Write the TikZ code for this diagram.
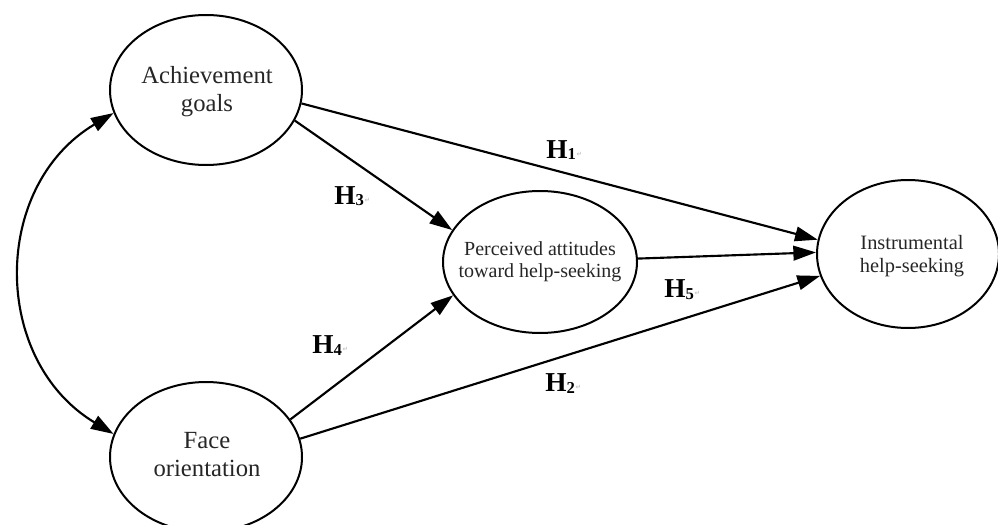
\documentclass[tikz,border=0pt]{standalone}
\usepackage{fontspec}
\setmainfont{Liberation Serif}
\newfontfamily\symfont{DejaVu Sans}
\usetikzlibrary{shapes.geometric,arrows.meta}
\definecolor{txtgray}{HTML}{262626}
\newcommand\hyp[1]{H\raisebox{-1.5pt}{\fontsize{12.5}{12.5}\selectfont #1}\hspace{0.5pt}\raisebox{1.5pt}{\color{gray!45}\symfont\fontsize{5}{5}\selectfont ↵}}
\begin{document}
\begin{tikzpicture}[x=0.75pt,y=-0.75pt,
  latent/.style={draw,ellipse,line width=1.5pt,inner sep=0pt},
  conn/.style={line width=1.6pt,-{Triangle[length=17pt,width=11pt]}},
  bothconn/.style={line width=1.6pt,{Triangle[length=17pt,width=11pt]}-{Triangle[length=17pt,width=11pt]}},
  bigtxt/.style={align=center,text=txtgray,inner sep=0pt,font=\fontsize{18.5}{21}\selectfont},
  smalltxt/.style={align=center,text=txtgray,inner sep=0pt,font=\fontsize{15}{16.5}\selectfont},
  hlab/.style={anchor=base west,inner sep=0pt,font=\bfseries\fontsize{20.5}{22}\selectfont},
]
\useasboundingbox (0,0) rectangle (998,524);
\clip (0,0) rectangle (998,524);

% latent variables
\node[latent,minimum width=144pt,minimum height=112.5pt] (ach) at (206,90) {};
\node[latent,minimum width=144pt,minimum height=112.5pt] (face) at (206,457) {};
\node[latent,minimum width=145.5pt,minimum height=106.5pt] (perc) at (540,262) {};
\node[latent,minimum width=136.5pt,minimum height=111pt] (inst) at (908,254) {};

\node[bigtxt] (achT) at (207,92) {Achievement\\goals};
\node[bigtxt] (faceT) at (207,455) {Face\\orientation};
\node[smalltxt] (percT) at (540,262) {Perceived attitudes\\toward help-seeking};
\node[smalltxt,font=\fontsize{15.3}{17}\selectfont] (instT) at (912,256) {Instrumental\\help-seeking};

% paths
\draw[conn] (ach.-8) -- (inst.171);
\draw[conn] (ach.-19) -- (perc.160);
\draw[conn] (face.24) -- (perc.-159);
\draw[conn] (face.11) -- (inst.-166);
\draw[conn] (perc.2) -- (inst.179);
\draw[bothconn] (ach.194) .. controls (-9,186) and (-9,360) .. (face.166);

% hypothesis labels
\node[hlab] (h1) at (546,158) {\hyp{1}};
\node[hlab] (h3) at (334,204) {\hyp{3}};
\node[hlab] (h4) at (312,353) {\hyp{4}};
\node[hlab] (h5) at (664,297) {\hyp{5}};
\node[hlab] (h2) at (545,391) {\hyp{2}};
\end{tikzpicture}
\end{document}
